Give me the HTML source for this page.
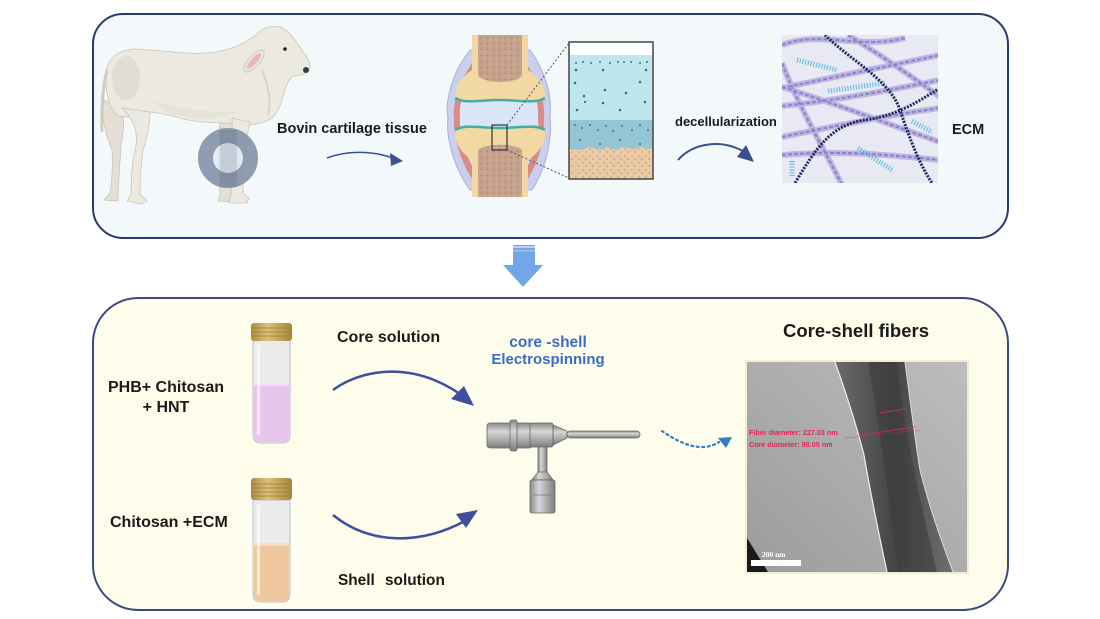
<!DOCTYPE html>
<html><head><meta charset="utf-8"><style>
html,body{margin:0;padding:0;background:#fff;}
svg{display:block;}
text{font-family:"Liberation Sans",Arial,sans-serif;font-weight:bold;}
</style></head><body>
<svg width="1100" height="619" viewBox="0 0 1100 619" xmlns="http://www.w3.org/2000/svg">
<defs>
<linearGradient id="metal" x1="0" y1="0" x2="0" y2="1">
<stop offset="0" stop-color="#8a8a8a"/><stop offset="0.35" stop-color="#d6d6d6"/><stop offset="0.7" stop-color="#a8a8a8"/><stop offset="1" stop-color="#7c7c7c"/>
</linearGradient>
<linearGradient id="metalH" x1="0" y1="0" x2="1" y2="0">
<stop offset="0" stop-color="#8a8a8a"/><stop offset="0.35" stop-color="#d6d6d6"/><stop offset="0.7" stop-color="#a8a8a8"/><stop offset="1" stop-color="#7c7c7c"/>
</linearGradient>
<linearGradient id="cap" x1="0" y1="0" x2="1" y2="0">
<stop offset="0" stop-color="#b08a3e"/><stop offset="0.4" stop-color="#dcc07c"/><stop offset="1" stop-color="#a9853a"/>
</linearGradient>
<linearGradient id="tembg" x1="0" y1="1" x2="1" y2="0">
<stop offset="0" stop-color="#9c9c9c"/><stop offset="1" stop-color="#bdbdbd"/>
</linearGradient>
<linearGradient id="fib" x1="0" y1="0" x2="1" y2="0">
<stop offset="0" stop-color="#6a6a6a"/><stop offset="0.5" stop-color="#454545"/><stop offset="1" stop-color="#707070"/>
</linearGradient>
<clipPath id="ecmclip"><rect x="782" y="35" width="156" height="148"/></clipPath>
<clipPath id="temclip"><rect x="747" y="362" width="220" height="210"/></clipPath>
<pattern id="speck" width="6" height="6" patternUnits="userSpaceOnUse">
<rect width="6" height="6" fill="#c6a18b"/><circle cx="1.5" cy="1.5" r="0.8" fill="#a9826c"/><circle cx="4.5" cy="4" r="0.7" fill="#d8b8a2"/>
</pattern>
<pattern id="speck2" width="7" height="7" patternUnits="userSpaceOnUse">
<rect width="7" height="7" fill="#ebcaa6"/><circle cx="2" cy="2" r="1" fill="#d4a982"/><circle cx="5" cy="5" r="0.9" fill="#c99a78"/>
</pattern>
</defs>

<!-- panels -->
<rect x="93" y="14" width="915" height="224" rx="30" fill="#f3f8fa" stroke="#2b3a6e" stroke-width="2"/>
<rect x="93" y="298" width="915" height="312" rx="45" fill="#fefcea" stroke="#3a4a7e" stroke-width="2"/>

<!-- down arrow -->
<polygon points="513,245 535,245 535,265 543,265 523,287 503,265 513,265" fill="#72a6e8"/>
<rect x="513" y="246" width="22" height="2" fill="#b9d3f4"/>
<rect x="513" y="250" width="22" height="1.5" fill="#9fc2f0"/>

<!-- COW -->
<g stroke="#cbc5b7" stroke-width="0.8">
<path d="M104,100 C100,120 108,140 112,150 C113,165 112,180 110,193 L104,200 L118,201 L118,193 C119,175 120,160 121,145 C124,130 124,118 122,110 Z" fill="#e3dfd5"/>
<path d="M220,118 C219,140 218,165 220,195 L218,201 L233,202 L231,192 C231,165 233,140 235,120 Z" fill="#e3dfd5"/>
<path d="M106,80 C104,62 115,50 135,49 C165,50 190,56 215,52 C235,49 248,42 258,33 C264,27 272,25 280,27 C288,30 296,40 303,52 C308,58 312,64 309,70 C306,74 300,76 293,76 C288,80 285,88 283,96 C281,105 278,112 272,118 C262,124 250,126 240,124 C220,122 200,124 180,118 C165,114 155,112 148,112 C140,116 130,118 118,116 C110,110 106,96 106,80 Z" fill="#ece9e1"/>
<path d="M122,108 C135,120 140,135 134,155 C131,170 131,185 131,195 L127,201 L141,204 L147,201 L140,194 C140,180 141,165 143,150 C148,135 150,120 150,112 Z" fill="#ece9e1"/>
<path d="M232,118 C233,140 232,165 231,195 L229,203 L247,203 L249,198 L243,193 C243,165 246,140 250,122 Z" fill="#ece9e1"/>
</g>
<path d="M107,70 C103,85 101,110 102,132" stroke="#d2ccbf" stroke-width="3" fill="none"/>
<ellipse cx="126" cy="78" rx="14" ry="22" fill="#dfdacf" opacity="0.8"/>
<path d="M150,100 C175,108 200,112 235,112 C228,118 200,120 170,114 Z" fill="#e2ded4" opacity="0.7"/>
<path d="M262,70 C268,85 272,100 268,115" stroke="#d9d3c7" stroke-width="2" fill="none"/>
<ellipse cx="254" cy="61" rx="14" ry="5.5" transform="rotate(-48 254 61)" fill="#e9e5dc" stroke="#cbc5b7" stroke-width="0.8"/>
<ellipse cx="254" cy="61" rx="10" ry="3" transform="rotate(-48 254 61)" fill="#e6b7b4"/>
<circle cx="285" cy="49" r="1.8" fill="#222"/>
<circle cx="306" cy="70" r="3" fill="#3a3a3a"/>
<rect x="220" y="130" width="17" height="57" fill="#6f7782" opacity="0.75"/>
<circle cx="228" cy="158" r="15" fill="#dde7f3" opacity="0.7"/>
<circle cx="228" cy="158" r="22.5" fill="none" stroke="#7e8da2" stroke-width="15" opacity="0.85"/>

<text x="277" y="133" font-size="14.5" fill="#1a1a1a">Bovin cartilage tissue</text>
<path d="M327,158 C345,151 370,150 393,158" stroke="#3c4f92" stroke-width="1.6" fill="none"/>
<polygon points="403,161 390,153 391,166" fill="#3c4f92"/>

<!-- JOINT -->
<path d="M470,50 C450,75 445,105 448,118 C446,135 452,165 470,190 L532,190 C548,165 552,135 550,118 C552,100 548,75 530,50 Z" fill="#c9cfec" stroke="#a6b1dc" stroke-width="1"/>
<path d="M473,62 C456,86 453,106 454,118 C453,132 458,158 473,180 L527,180 C542,158 545,132 544,118 C545,106 542,86 525,62 Z" fill="#d98c87"/>
<path d="M476,70 C462,90 459,106 460,118 C459,130 463,152 476,172 L524,172 C537,152 539,130 538,118 C539,106 536,90 522,70 Z" fill="#d8e6f5"/>
<path d="M472,35 L528,35 L528,70 C540,78 546,88 545,98 C535,104 520,100 500,100 C480,100 465,104 455,98 C454,88 460,78 472,70 Z" fill="#f2d8a3"/>
<path d="M455,98 C465,104 480,100 500,100 C520,100 535,104 545,98" stroke="#46ad9f" stroke-width="2.5" fill="none"/>
<path d="M478,35 L522,35 L522,76 C514,84 486,84 478,76 Z" fill="url(#speck)"/>
<path d="M472,197 L528,197 L528,160 C540,152 546,142 545,130 C535,124 520,128 500,128 C480,128 465,124 455,130 C454,142 460,152 472,160 Z" fill="#f2d8a3"/>
<path d="M455,130 C465,124 480,128 500,128 C520,128 535,124 545,130" stroke="#46ad9f" stroke-width="2.5" fill="none"/>
<path d="M478,197 L522,197 L522,150 C514,143 486,143 478,150 Z" fill="url(#speck)"/>
<rect x="492" y="125" width="15" height="25" fill="none" stroke="#333" stroke-width="1.2"/>
<line x1="507" y1="125" x2="569" y2="43" stroke="#555" stroke-width="1" stroke-dasharray="2 2"/>
<line x1="507" y1="150" x2="569" y2="178" stroke="#555" stroke-width="1" stroke-dasharray="2 2"/>

<!-- cartilage zoom box -->
<rect x="569" y="42" width="84" height="137" fill="#ffffff"/>
<rect x="569" y="55" width="84" height="65" fill="#bfe5ee"/>
<rect x="569" y="120" width="84" height="30" fill="#93c5d6"/>
<path d="M569,152 C575,147 580,152 586,148 C592,145 597,152 603,148 C609,145 614,152 620,148 C626,145 631,151 637,148 C643,145 648,151 653,148 L653,179 L569,179 Z" fill="url(#speck2)"/>
<g fill="#3f6f7d">
<circle cx="576" cy="63" r="1"/><circle cx="583" cy="62" r="1"/><circle cx="591" cy="63" r="1"/><circle cx="600" cy="62" r="1"/><circle cx="610" cy="63" r="1"/><circle cx="618" cy="62" r="1"/><circle cx="624" cy="62" r="1"/><circle cx="631" cy="62" r="1"/><circle cx="640" cy="63" r="1"/><circle cx="647" cy="62" r="1"/>
<circle cx="576" cy="70" r="1.3"/><circle cx="603" cy="70" r="1.3"/><circle cx="646" cy="70" r="1.3"/><circle cx="575" cy="83" r="1.3"/><circle cx="640" cy="82" r="1.3"/><circle cx="605" cy="90" r="1.3"/><circle cx="626" cy="93" r="1.3"/><circle cx="584" cy="96" r="1.3"/><circle cx="645" cy="102" r="1.3"/><circle cx="603" cy="103" r="1.3"/><circle cx="577" cy="110" r="1.3"/><circle cx="620" cy="110" r="1.3"/><circle cx="585" cy="102" r="1.1"/>
<circle cx="575" cy="125" r="1"/><circle cx="582" cy="128" r="1"/><circle cx="590" cy="125" r="1"/><circle cx="598" cy="130" r="1"/><circle cx="606" cy="126" r="1"/><circle cx="613" cy="131" r="1"/><circle cx="622" cy="126" r="1"/><circle cx="632" cy="130" r="1"/><circle cx="640" cy="125" r="1"/><circle cx="648" cy="130" r="1"/>
<circle cx="580" cy="140" r="1"/><circle cx="600" cy="144" r="1"/><circle cx="620" cy="140" r="1"/><circle cx="640" cy="144" r="1"/>
</g>
<rect x="569" y="42" width="84" height="137" fill="none" stroke="#444" stroke-width="1.5"/>

<text x="675" y="126" font-size="13" fill="#1a1a1a">decellularization</text>
<path d="M678,160 C693,143 722,138 746,153" stroke="#3c4f92" stroke-width="2" fill="none"/>
<polygon points="754,162 737,157 746,145" fill="#3c4f92"/>

<!-- ECM -->
<rect x="782" y="35" width="156" height="148" fill="#e9e9f3"/>
<g clip-path="url(#ecmclip)" fill="none">
<g stroke="#b9aee2" stroke-width="6" opacity="0.85">
<path d="M782,45 C820,30 860,50 905,38"/>
<path d="M782,63 C800,110 825,150 842,185"/>
<path d="M782,88 C830,78 880,68 940,55"/>
<path d="M782,106 C840,100 890,90 940,80"/>
<path d="M782,87 C840,105 890,125 940,142"/>
<path d="M848,35 C880,55 910,75 940,97"/>
<path d="M782,137 C840,125 890,115 940,108"/>
<path d="M782,155 C840,150 890,155 940,160"/>
</g>
<g stroke="#8378c0" stroke-width="2.2" stroke-dasharray="4 2" opacity="0.8">
<path d="M782,45 C820,30 860,50 905,38"/>
<path d="M782,63 C800,110 825,150 842,185"/>
<path d="M782,88 C830,78 880,68 940,55"/>
<path d="M782,106 C840,100 890,90 940,80"/>
<path d="M782,87 C840,105 890,125 940,142"/>
<path d="M848,35 C880,55 910,75 940,97"/>
<path d="M782,137 C840,125 890,115 940,108"/>
<path d="M782,155 C840,150 890,155 940,160"/>
</g>
<g stroke="#68bfe6" stroke-width="5" stroke-dasharray="1.2 1.6">
<path d="M797,60 L837,70"/><path d="M828,91 L885,83"/><path d="M858,148 L892,170"/><path d="M912,121 L932,132"/><path d="M792,161 L792,176"/>
</g>
<g stroke="#1d2b5e" stroke-width="3" stroke-dasharray="2 1.3">
<path d="M825,35 C850,60 890,80 900,110 C910,140 920,165 932,183"/>
<path d="M795,183 C815,150 830,125 865,120 C900,115 920,100 940,88"/>
</g>
</g>
<text x="952" y="134" font-size="14.5" fill="#1a1a1a">ECM</text>

<!-- BOTTOM PANEL -->
<text x="166" y="392" font-size="16" fill="#1a1a1a" text-anchor="middle">PHB+ Chitosan</text>
<text x="166" y="412" font-size="16" fill="#1a1a1a" text-anchor="middle">+ HNT</text>
<text x="110" y="527" font-size="16" fill="#1a1a1a">Chitosan +ECM</text>

<!-- vial 1 -->
<path d="M253,340 L290,340 L290,435 Q290,443 282,443 L261,443 Q253,443 253,435 Z" fill="#ebebee" stroke="#bdbdc4" stroke-width="1"/>
<path d="M254,385 L289,385 L289,435 Q289,442 282,442 L261,442 Q254,442 254,435 Z" fill="#e7c5ec"/>
<rect x="254" y="383" width="35" height="3" fill="#f3dff5"/>
<rect x="257" y="345" width="3" height="90" fill="#ffffff" opacity="0.6"/>
<rect x="251" y="323" width="41" height="18" rx="3" fill="url(#cap)"/>
<g stroke="#9a7a34" stroke-width="0.8"><line x1="252" y1="328" x2="291" y2="328"/><line x1="252" y1="332" x2="291" y2="332"/><line x1="252" y1="336" x2="291" y2="336"/></g>

<!-- vial 2 -->
<rect x="247" y="473" width="51" height="131" fill="#fffff6" opacity="0.7"/>
<path d="M253,500 L290,500 L290,594 Q290,602 282,602 L261,602 Q253,602 253,594 Z" fill="#ebebee" stroke="#bdbdc4" stroke-width="1"/>
<path d="M254,545 L289,545 L289,594 Q289,601 282,601 L261,601 Q254,601 254,594 Z" fill="#efc89f"/>
<rect x="254" y="543" width="35" height="3" fill="#f6dcc0"/>
<rect x="257" y="505" width="3" height="90" fill="#ffffff" opacity="0.6"/>
<rect x="251" y="478" width="41" height="22" rx="3" fill="url(#cap)"/>
<g stroke="#9a7a34" stroke-width="0.8"><line x1="252" y1="484" x2="291" y2="484"/><line x1="252" y1="488" x2="291" y2="488"/><line x1="252" y1="492" x2="291" y2="492"/><line x1="252" y1="496" x2="291" y2="496"/></g>

<text x="337" y="342" font-size="16" fill="#1a1a1a">Core solution</text>
<text x="338" y="585" font-size="15.4" fill="#1a1a1a">Shell</text>
<text x="385" y="585" font-size="15.4" fill="#1a1a1a">solution</text>

<path d="M333,390 C360,370 410,360 460,394" stroke="#3d4f9e" stroke-width="2.5" fill="none"/>
<polygon points="474,406 451,399 464,386" fill="#3d4f9e"/>
<path d="M333,515 C370,545 420,545 465,521" stroke="#3d4f9e" stroke-width="2.5" fill="none"/>
<polygon points="478,510 456,514 466,528" fill="#3d4f9e"/>

<text x="548" y="347" font-size="15.5" fill="#3b6cc4" text-anchor="middle">core -shell</text>
<text x="548" y="364" font-size="15" fill="#3b6cc4" text-anchor="middle">Electrospinning</text>

<!-- nozzle -->
<g stroke="#666" stroke-width="0.8">
<rect x="538" y="446" width="9" height="27" fill="url(#metalH)"/>
<polygon points="538,472 547,472 553,480 532,480" fill="url(#metalH)"/>
<rect x="530" y="480" width="25" height="33" rx="2" fill="url(#metalH)"/>
<rect x="567" y="431" width="73" height="7" rx="3.5" fill="url(#metal)"/>
<polygon points="553,425 567,431 567,438 553,445" fill="url(#metal)"/>
<rect x="487" y="423" width="45" height="25" rx="3" fill="url(#metal)"/>
<rect x="510" y="420" width="7" height="31" rx="2" fill="url(#metal)"/>
<rect x="530" y="423" width="23" height="24" rx="2" fill="url(#metal)"/>
</g>
<line x1="533" y1="495" x2="552" y2="495" stroke="#777" stroke-width="0.8"/>

<!-- dotted arrow -->
<path d="M662,431 C675,440 690,448 705,447 C712,446 716,444 719,442" stroke="#2f7fc4" stroke-width="2.2" fill="none" stroke-dasharray="2 3.5" stroke-linecap="round"/>
<polygon points="732,437 718,438 726,448" fill="#2f7fc4"/>

<text x="783" y="337" font-size="18.5" fill="#1a1a1a">Core-shell fibers</text>

<!-- TEM -->
<rect x="745" y="360" width="224" height="214" fill="#e8e4cc" opacity="0.6"/>
<rect x="747" y="362" width="220" height="210" fill="url(#tembg)"/>
<g clip-path="url(#temclip)">
<path d="M835,362 L905,362 C910,400 915,440 920,470 C930,510 943,545 953,572 L887,572 C878,530 870,490 864,455 C855,420 845,390 835,362 Z" fill="url(#fib)"/>
<path d="M868,362 L897,362 C903,420 915,480 937,572 L898,572 C890,510 880,430 868,362 Z" fill="#3a3a3a" opacity="0.55"/>
<path d="M835,362 C845,390 855,420 864,455 C870,490 878,530 887,572" stroke="#eeeeee" stroke-width="1.2" fill="none"/>
<path d="M905,362 C910,400 915,440 920,470 C930,510 943,545 953,572" stroke="#dddddd" stroke-width="1" fill="none"/>
<line x1="880" y1="413" x2="906" y2="409" stroke="#e0285a" stroke-width="0.8"/>
<line x1="862" y1="435" x2="915" y2="427" stroke="#e0285a" stroke-width="0.8"/>
<line x1="845" y1="438" x2="920" y2="430" stroke="#e0285a" stroke-width="0.5" opacity="0.6"/>
<polygon points="747,538 768,572 747,572" fill="#1a1a1a"/>
</g>
<text x="749" y="435" font-size="7.2" fill="#e0285a" font-weight="normal">Fiber diameter: 227.03 nm</text>
<text x="749" y="447" font-size="7.2" fill="#e0285a" font-weight="normal">Core diameter: 98.05 nm</text>
<text x="762" y="557" font-size="7.5" fill="#ffffff" style="font-family:'Liberation Serif',serif">200 nm</text>
<rect x="751" y="560" width="50" height="6" fill="#ffffff"/>
</svg>
</body></html>
